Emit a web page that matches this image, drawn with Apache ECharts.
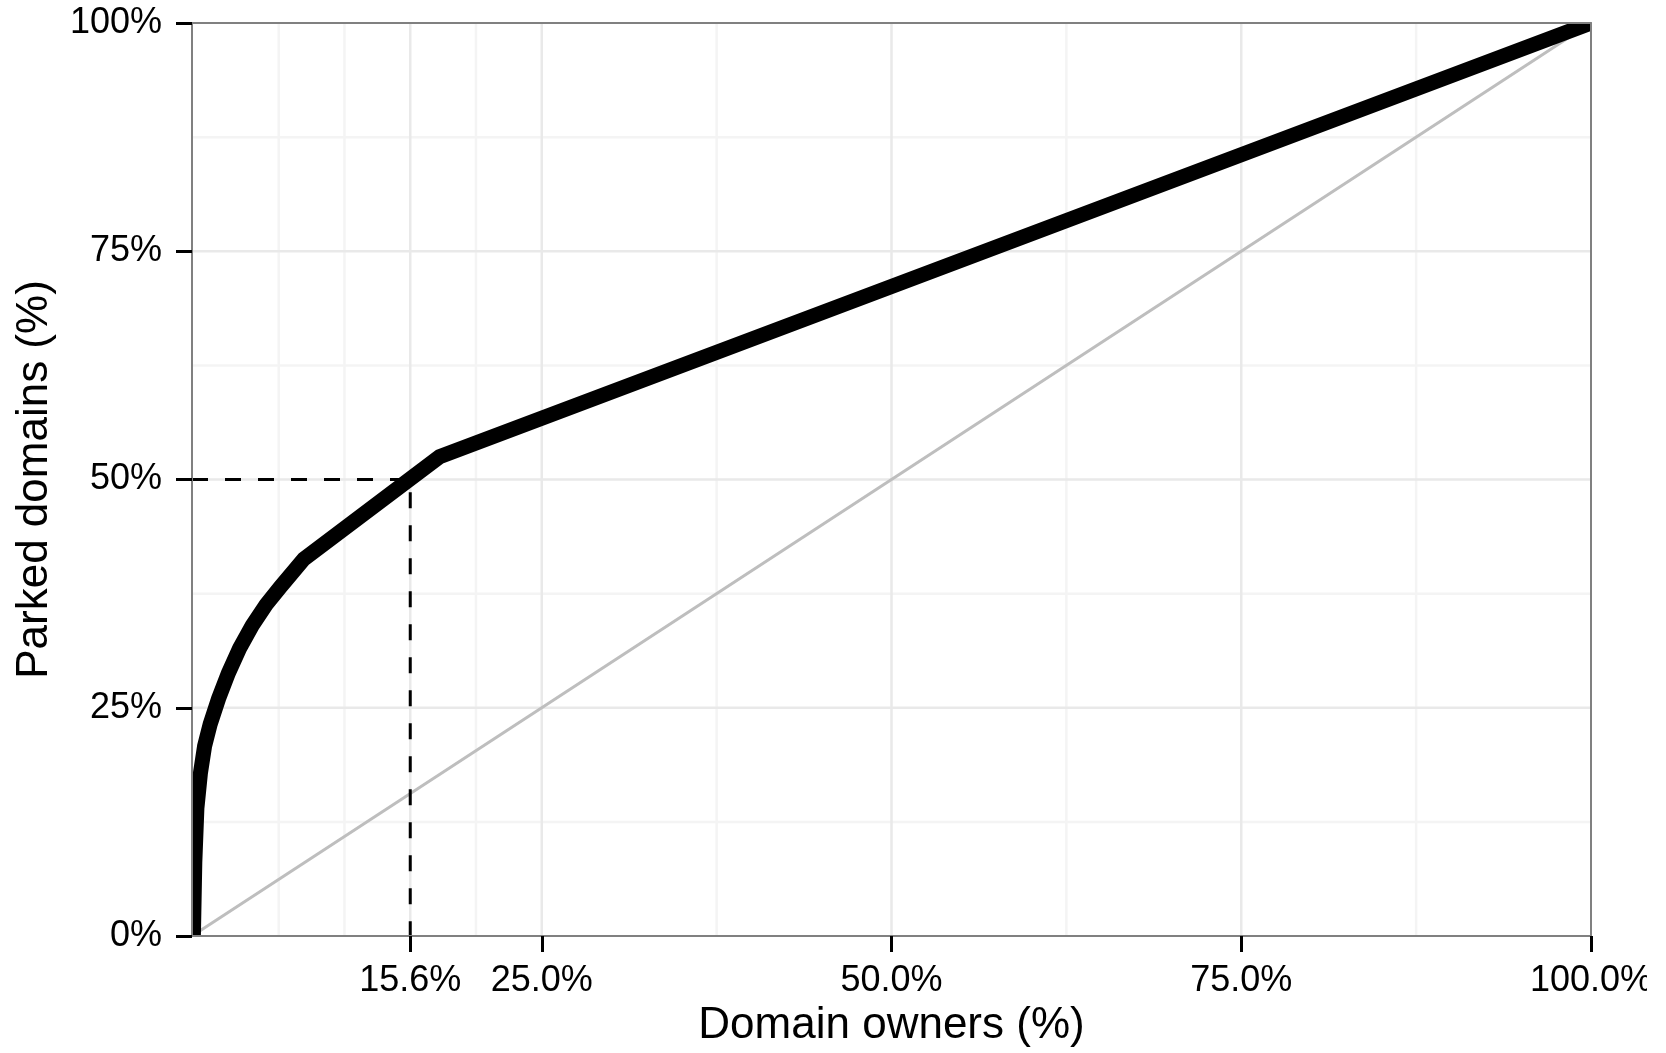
<!DOCTYPE html>
<html>
<head>
<meta charset="utf-8">
<title>Parked domains by owner</title>
<script src="https://cdn.jsdelivr.net/npm/echarts@6/dist/echarts.min.js"></script>
<style>
  html, body { margin: 0; padding: 0; background: #ffffff; overflow: hidden; }
  #chart { width: 1647px; height: 1053px; }
</style>
</head>
<body>
<div id="chart"></div>
<script>
// Cumulative share of domain owners (x, %) vs. cumulative share of parked domains (y, %)
const ownerShare  = [0.1, 0.2, 0.35, 0.6, 0.9, 1.3, 1.9, 2.6, 3.4, 4.3, 5.3, 6.3, 8.0, 17.7, 100];
const parkedShare = [0,   8,   14,   17.8, 20.8, 23.2, 26.0, 28.8, 31.5, 34.0, 36.3, 38.2, 41.3, 52.5, 100];

// Half of the parked domains are held by this share of owners
const halfOwners = 15.6;
const halfParked = 50;

// Axis breaks
const xTicks = [15.6, 25, 50, 75, 100];
const yTicks = [0, 25, 50, 75, 100];
const xMajorGrid = [15.6, 25, 50, 75];
const xMinorGrid = [6.2, 10.9, 20.3, 37.5, 62.5, 87.5];
const yMajorGrid = [25, 50, 75];
const yMinorGrid = [12.5, 37.5, 62.5, 87.5];

const FONT = "'Liberation Sans', Arial, Helvetica, sans-serif";
const BORDER = '#808080';
const MAJOR = '#e9e9e9';
const MINOR = '#f4f4f4';

const curveData = ownerShare.map((x, i) => [x, parkedShare[i]]);

// Panel grid lines, drawn as plain line series so they stay beneath the data
function gridSeries(values, vertical, color, z) {
  return values.map(v => ({
    type: 'line', silent: true, symbol: 'none', z: z,
    data: vertical ? [[v, 0], [v, 100]] : [[0, v], [100, v]],
    lineStyle: { color: color, width: 2.5 }
  }));
}

// The thick curve is drawn as one polyline so it is clipped exactly at the panel edge
function renderCurve(params, api) {
  if (params.dataIndexInside !== params.dataInsideLength - 1) return null;
  const points = [];
  for (let i = 0; i < params.dataInsideLength; i++) {
    points.push(api.coord([api.value(0, i), api.value(1, i)]));
  }
  return {
    type: 'polyline',
    shape: { points: points },
    style: { stroke: '#000', lineWidth: 15, fill: null, lineJoin: 'miter', lineCap: 'butt' }
  };
}

const chart = echarts.init(document.getElementById('chart'), null, { renderer: 'canvas' });

chart.setOption({
  animation: false,
  backgroundColor: '#ffffff',
  grid: { left: 192, right: 56, top: 23, bottom: 117, containLabel: false, outerBoundsMode: 'none' },
  xAxis: [
    {
      type: 'value', min: 0, max: 100, position: 'bottom', z: 5,
      axisLine: { show: true, onZero: false, lineStyle: { color: BORDER, width: 2 } },
      axisTick: { show: true, customValues: xTicks, length: 16, lineStyle: { color: '#000', width: 3 } },
      axisLabel: {
        customValues: xTicks, margin: 27, fontSize: 36, color: '#000', fontFamily: FONT,
        formatter: v => Number(v).toFixed(1) + '%'
      },
      splitLine: { show: false },
      name: 'Domain owners (%)', nameLocation: 'middle', nameGap: 66,
      nameTextStyle: { fontSize: 44, color: '#000', fontFamily: FONT }
    },
    {
      type: 'value', min: 0, max: 100, position: 'top', z: 5,
      axisLine: { show: true, onZero: false, lineStyle: { color: BORDER, width: 2 } },
      axisTick: { show: false }, axisLabel: { show: false }, splitLine: { show: false }
    }
  ],
  yAxis: [
    {
      type: 'value', min: 0, max: 100, interval: 25, position: 'left', z: 5,
      axisLine: { show: true, onZero: false, lineStyle: { color: BORDER, width: 2 } },
      axisTick: { show: true, customValues: yTicks, length: 16, lineStyle: { color: '#000', width: 3 } },
      axisLabel: {
        customValues: yTicks, margin: 30, fontSize: 36, color: '#000', fontFamily: FONT,
        formatter: v => v + '%'
      },
      splitLine: { show: false },
      name: 'Parked domains (%)', nameLocation: 'middle', nameGap: 135, nameRotate: 90,
      nameTextStyle: { fontSize: 44, color: '#000', fontFamily: FONT }
    },
    {
      type: 'value', min: 0, max: 100, position: 'right', z: 5,
      axisLine: { show: true, onZero: false, lineStyle: { color: BORDER, width: 2 } },
      axisTick: { show: false }, axisLabel: { show: false }, splitLine: { show: false }
    }
  ],
  series: []
    .concat(gridSeries(xMinorGrid, true, MINOR, 1))
    .concat(gridSeries(yMinorGrid, false, MINOR, 1))
    .concat(gridSeries(xMajorGrid, true, MAJOR, 1))
    .concat(gridSeries(yMajorGrid, false, MAJOR, 1))
    .concat([
      {
        name: 'equality', type: 'line', z: 2, silent: true, symbol: 'none',
        data: [[0, 0], [100, 100]],
        lineStyle: { color: '#bebebe', width: 3 }
      },
      {
        name: 'half', type: 'line', z: 3, silent: true, symbol: 'none',
        data: [[0, halfParked], [halfOwners, halfParked], [halfOwners, 0]],
        lineStyle: { color: '#000', width: 3, type: [16, 17] }
      },
      {
        name: 'parked', type: 'custom', z: 4, silent: true, clip: true,
        data: curveData,
        encode: { x: 0, y: 1 },
        renderItem: renderCurve
      }
    ])
});
</script>
</body>
</html>
